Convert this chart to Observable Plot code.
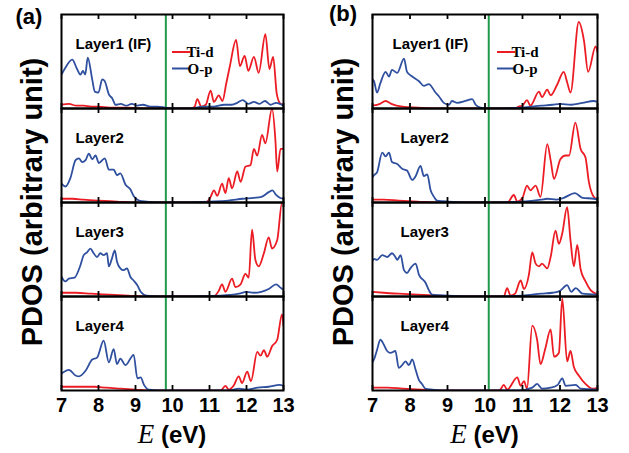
<!DOCTYPE html>
<html><head><meta charset="utf-8">
<script src="https://cdn.jsdelivr.net/npm/d3@7"></script>
<script src="https://cdn.jsdelivr.net/npm/@observablehq/plot@0.6"></script>
<style>
body{margin:0;background:#fff;}
#wrap{position:relative;width:629px;height:453px;overflow:hidden;background:#fff;}
#wrap svg{position:absolute;top:0;overflow:visible;}
#wrap svg [aria-label="x-axis tick label"] text{font-weight:bold;}
</style></head><body><div id="wrap"></div>
<script>
// ---------- data (energy in eV, PDOS in fraction of panel height) ----------
const energyTicks = [7, 8, 9, 10, 11, 12, 13];
const layers = ["Layer1 (IF)", "Layer2", "Layer3", "Layer4"];
const species = ["Ti-d", "O-p"];
const fermiA = 9.82;   // green line, panel (a)
const fermiB = 10.1;   // green line, panel (b)

// Panel (a)
const a1Ti = [[7.0,.04],[7.2,.05],[7.4,.03],[7.6,.03],[7.8,.02],[8.0,.02],[8.3,.01],[8.8,.01],[9.3,0],[10.5,0],[10.6,.02],[10.67,.10],[10.78,.02],[10.9,.04],[11.03,.19],[11.12,.07],[11.25,.14],[11.35,.08],[11.45,.26],[11.55,.45],[11.72,.73],[11.82,.45],[11.95,.56],[12.05,.40],[12.2,.55],[12.33,.38],[12.51,.79],[12.62,.42],[12.72,.55],[12.82,.15],[12.92,.05],[13.0,.04]];
const a1O  = [[7.0,.36],[7.1,.43],[7.29,.52],[7.42,.42],[7.51,.36],[7.58,.40],[7.64,.36],[7.71,.54],[7.83,.31],[7.9,.18],[8.0,.17],[8.1,.31],[8.17,.29],[8.28,.15],[8.37,.11],[8.46,.04],[8.6,.05],[8.75,.03],[8.9,.05],[9.05,.03],[9.2,.04],[9.4,.02],[9.6,.02],[9.8,.01],[10.0,0],[10.5,0],[10.8,.02],[11.1,.02],[11.4,.04],[11.6,.04],[11.75,.06],[11.9,.09],[12.05,.05],[12.2,.07],[12.35,.05],[12.5,.08],[12.65,.04],[12.8,.06],[13.0,.03]];
const a2Ti = [[7.0,.04],[7.3,.04],[7.6,.03],[8.0,.02],[8.5,.01],[9.0,0],[10.9,0],[11.03,.06],[11.12,.13],[11.21,.07],[11.34,.20],[11.43,.10],[11.52,.26],[11.61,.15],[11.75,.33],[11.84,.22],[11.97,.38],[12.11,.40],[12.2,.57],[12.29,.50],[12.42,.72],[12.51,.63],[12.69,1.0],[12.78,.67],[12.83,.33],[12.92,.57],[13.0,.57]];
const a2O  = [[7.0,.20],[7.11,.17],[7.24,.26],[7.38,.45],[7.47,.47],[7.56,.43],[7.65,.45],[7.74,.52],[7.83,.46],[7.92,.50],[8.01,.42],[8.17,.47],[8.28,.35],[8.41,.35],[8.5,.29],[8.59,.31],[8.73,.19],[8.86,.14],[8.95,.07],[9.1,.02],[9.3,.01],[9.8,0],[11.0,.01],[11.5,.02],[11.9,.04],[12.2,.05],[12.4,.06],[12.6,.11],[12.7,.13],[12.8,.08],[12.9,.05],[13.0,.04]];
const a3Ti = [[7.0,.04],[7.4,.04],[7.8,.03],[8.3,.02],[8.8,.01],[9.3,0],[11.1,0],[11.25,.06],[11.34,.13],[11.43,.05],[11.61,.19],[11.7,.10],[11.84,.13],[11.97,.24],[12.06,.20],[12.15,.71],[12.24,.39],[12.33,.32],[12.47,.46],[12.6,.63],[12.69,.51],[12.83,.60],[12.96,1.0],[13.0,1.0]];
const a3O  = [[7.0,.21],[7.1,.16],[7.2,.19],[7.35,.20],[7.51,.33],[7.6,.44],[7.69,.47],[7.78,.51],[7.87,.46],[7.96,.42],[8.05,.46],[8.14,.44],[8.23,.46],[8.28,.32],[8.36,.40],[8.44,.49],[8.5,.37],[8.59,.30],[8.68,.28],[8.77,.30],[8.86,.21],[8.95,.17],[9.05,.12],[9.14,.05],[9.3,.01],[9.8,0],[11.3,.01],[11.8,.03],[12.0,.05],[12.2,.04],[12.4,.05],[12.6,.08],[12.8,.13],[12.9,.10],[13.0,.07]];
const a4Ti = [[7.0,.04],[7.5,.04],[7.9,.04],[8.2,.03],[8.6,.02],[9.0,.01],[9.4,0],[11.3,0],[11.43,.05],[11.52,.01],[11.65,.05],[11.79,.15],[11.88,.08],[12.02,.20],[12.12,.10],[12.29,.41],[12.38,.37],[12.47,.43],[12.56,.36],[12.69,.47],[12.83,.54],[12.96,.81],[13.0,.69]];
const a4O  = [[7.0,.18],[7.2,.22],[7.38,.16],[7.47,.15],[7.65,.21],[7.83,.33],[7.96,.35],[8.14,.53],[8.28,.30],[8.41,.44],[8.5,.28],[8.59,.34],[8.73,.27],[8.95,.38],[9.05,.13],[9.14,.14],[9.23,.06],[9.36,.01],[9.8,0],[11.5,0],[11.8,.02],[12.0,.01],[12.3,.03],[12.6,.04],[12.9,.06],[13.0,.05]];

// Panel (b)
const b1Ti = [[7.0,.03],[7.2,.05],[7.35,.08],[7.5,.05],[7.8,.02],[8.2,.01],[8.8,0],[10.8,0],[10.9,.02],[11.0,.03],[11.12,.09],[11.21,.03],[11.44,.18],[11.52,.12],[11.66,.20],[11.75,.14],[11.92,.25],[12.1,.39],[12.19,.28],[12.28,.17],[12.5,.92],[12.64,.72],[12.75,.39],[12.95,.66],[13.0,.6]];
const b1O  = [[7.0,.31],[7.04,.29],[7.12,.17],[7.21,.27],[7.35,.39],[7.44,.34],[7.52,.41],[7.66,.38],[7.84,.53],[7.92,.39],[8.06,.34],[8.24,.29],[8.37,.24],[8.5,.26],[8.68,.17],[8.77,.13],[8.9,.06],[9.04,.04],[9.12,.08],[9.26,.06],[9.48,.08],[9.66,.10],[9.75,.04],[9.88,.01],[10.1,0],[11.0,.01],[11.5,.03],[11.8,.04],[12.0,.05],[12.3,.04],[12.6,.06],[12.9,.08],[13.0,.07]];
const b2Ti = [[7.0,.03],[7.3,.03],[7.7,.02],[8.2,.01],[8.8,0],[10.6,0],[10.77,.08],[10.86,.01],[11.0,.05],[11.12,.18],[11.21,.13],[11.35,.18],[11.48,.06],[11.66,.62],[11.75,.45],[11.84,.25],[12.01,.46],[12.15,.50],[12.24,.50],[12.41,.85],[12.55,.57],[12.68,.48],[12.77,.22],[12.9,.06],[13.0,.03]];
const b2O  = [[7.0,.27],[7.04,.29],[7.12,.32],[7.26,.53],[7.35,.49],[7.44,.53],[7.52,.43],[7.66,.41],[7.79,.36],[7.92,.34],[8.06,.24],[8.15,.28],[8.28,.39],[8.37,.28],[8.46,.30],[8.55,.13],[8.64,.06],[8.72,.02],[9.0,.01],[10.0,0],[11.0,.01],[11.5,.03],[11.66,.04],[11.9,.03],[12.1,.05],[12.4,.10],[12.6,.05],[12.9,.04],[13.0,.03]];
const b3Ti = [[7.0,.05],[7.3,.04],[7.7,.03],[8.2,.02],[8.8,.01],[9.5,0],[10.5,0],[10.59,.09],[10.68,.01],[10.8,.03],[10.95,.17],[11.04,.08],[11.17,.23],[11.26,.47],[11.35,.35],[11.44,.32],[11.52,.35],[11.66,.30],[11.75,.42],[11.88,.70],[11.97,.56],[12.06,.67],[12.19,.95],[12.28,.60],[12.37,.32],[12.46,.55],[12.55,.29],[12.68,.16],[12.81,.07],[12.95,.03],[13.0,.02]];
const b3O  = [[7.0,.38],[7.04,.40],[7.12,.39],[7.26,.44],[7.39,.42],[7.52,.46],[7.61,.42],[7.66,.39],[7.75,.44],[7.84,.28],[7.92,.25],[8.01,.30],[8.15,.35],[8.24,.23],[8.37,.17],[8.41,.15],[8.5,.07],[8.59,.02],[9.0,.01],[10.0,0],[11.0,.01],[11.5,.03],[11.8,.04],[12.0,.06],[12.19,.12],[12.3,.05],[12.42,.09],[12.6,.03],[13.0,.02]];
const b4Ti = [[7.0,.03],[7.4,.03],[7.8,.02],[8.3,.01],[9.0,0],[10.35,0],[10.41,.01],[10.5,.06],[10.59,.01],[10.86,.14],[10.95,.05],[11.04,.10],[11.12,.02],[11.26,.69],[11.39,.54],[11.48,.28],[11.61,.45],[11.75,.65],[11.84,.36],[11.97,.40],[12.06,.98],[12.19,.31],[12.28,.42],[12.37,.25],[12.5,.16],[12.68,.07],[12.86,.02],[13.0,.03]];
const b4O  = [[7.0,.30],[7.04,.33],[7.12,.43],[7.21,.54],[7.3,.49],[7.39,.42],[7.48,.40],[7.61,.42],[7.7,.24],[7.79,.27],[7.88,.31],[7.97,.27],[8.06,.33],[8.15,.22],[8.24,.11],[8.32,.07],[8.41,.02],[8.59,.01],[9.0,0],[10.9,0],[11.26,.03],[11.39,.07],[11.52,.02],[11.75,.03],[11.94,.06],[12.06,.13],[12.15,.05],[12.42,.06],[12.55,.02],[13.0,.01]];

// ---------- styling ----------
const RED = "#ec1c24", BLUE = "#2f4f9f", GREEN = "#1f9a4a";
const SANS = "Arial, 'Liberation Sans', Helvetica, sans-serif";
const SERIF = "'Times New Roman', 'Liberation Serif', serif";
const H = 453, MT = 14, MB = 63;
const facetH = (H - MT - MB) / layers.length;
const TICK = 5;

function buildRows(tiList, oList) {
  const rows = [];
  layers.forEach((layer, i) => {
    tiList[i].forEach(([E, v]) => rows.push({E, v, layer, species: "Ti-d"}));
    oList[i].forEach(([E, v]) => rows.push({E, v, layer, species: "O-p"}));
  });
  return rows;
}

const layerLabels = layers.map(l => ({layer: l, label: l}));
// one tick row per energy tick and layer (inward ticks on top and bottom of each sub-panel)
const tickRows = layers.flatMap(layer => energyTicks.map(E => ({E, layer})));

function panel(rows, fermi, o) {
  const svg = Plot.plot({
    width: 300, height: H,
    marginLeft: o.ml, marginRight: o.mr, marginTop: MT, marginBottom: MB,
    x: {domain: [7, 13]},
    y: {domain: [0, 1], axis: null},
    fy: {domain: layers, padding: 0, axis: null},
    color: {domain: species, range: [RED, BLUE]},
    style: {fontFamily: SANS, background: "transparent", color: "black"},
    marks: [
      Plot.ruleX([fermi], {x: d => d, stroke: GREEN, strokeWidth: 2}),
      Plot.line(rows, {x: "E", y: "v", fy: "layer", stroke: "species", z: "species", curve: "monotone-x", strokeWidth: 1.8, clip: true}),
      Plot.tickX(tickRows, {x: "E", fy: "layer", insetTop: facetH - TICK, stroke: "black", strokeWidth: 1.8}),
      Plot.tickX(tickRows, {x: "E", fy: "layer", insetBottom: facetH - TICK, stroke: "black", strokeWidth: 1.8}),
      Plot.frame({stroke: "black", strokeWidth: 2}),
      Plot.text(layerLabels.slice(0, 1), {fy: "layer", text: "label", frameAnchor: "top-left", dx: o.dx1, dy: 24, textAnchor: "start", fontWeight: "bold", fontSize: 15, fill: "black"}),
      Plot.text(layerLabels.slice(1), {fy: "layer", text: "label", frameAnchor: "top-left", dx: o.dx2, dy: 24, textAnchor: "start", fontWeight: "bold", fontSize: 15, fill: "black"}),
      Plot.axisX({ticks: energyTicks, tickSize: 0, tickPadding: 7, fontSize: 20, fontWeight: "bold", label: null, tickFormat: d => String(d)})
    ]
  });
  const s = d3.select(svg);
  const cx = o.ml + (300 - o.ml - o.mr) / 2;
  // panel letter
  s.append("text").attr("x", o.letterX).attr("y", o.letterY).attr("text-anchor", "middle")
    .attr("font-family", SANS).attr("font-weight", "bold").attr("font-size", 22).text(o.letter);
  // y label
  s.append("text").attr("transform", `translate(${o.ylabX},202) rotate(-90)`).attr("text-anchor", "middle")
    .attr("font-family", SANS).attr("font-weight", "bold").attr("font-size", 29).text("PDOS (arbitrary unit)");
  // x label
  const xl = s.append("text").attr("x", cx).attr("y", 443).attr("text-anchor", "middle");
  xl.append("tspan").attr("font-family", SERIF).attr("font-style", "italic").attr("font-size", 27).text("E");
  xl.append("tspan").attr("font-family", SANS).attr("font-weight", "bold").attr("font-size", 24).text(" (eV)");
  // legend
  species.forEach((sp, i) => {
    const y = 52 + i * 16.5;
    s.append("line").attr("x1", o.legX).attr("x2", o.legX + 18).attr("y1", y).attr("y2", y)
      .attr("stroke", sp === "Ti-d" ? RED : BLUE).attr("stroke-width", 2);
    s.append("text").attr("x", o.legX + 28).attr("y", y).attr("dy", "0.35em")
      .attr("font-family", SERIF).attr("font-weight", "bold").attr("font-size", 15).text(sp);
  });
  return svg;
}

const wrap = document.getElementById("wrap");
const svgA = panel(buildRows([a1Ti, a2Ti, a3Ti, a4Ti], [a1O, a2O, a3O, a4O]), fermiA,
  {ml: 61, mr: 17, dx1: 14, dx2: 14, letter: "(a)", letterX: 29, letterY: 24, ylabX: 42, legX: 172});
svgA.style.left = "0px";
wrap.appendChild(svgA);
const svgB = panel(buildRows([b1Ti, b2Ti, b3Ti, b4Ti], [b1O, b2O, b3O, b4O]), fermiB,
  {ml: 62, mr: 13, dx1: 20, dx2: 28, letter: "(b)", letterX: 33, letterY: 21, ylabX: 43, legX: 187});
svgB.style.left = "310px";
wrap.appendChild(svgB);
</script></body></html>
